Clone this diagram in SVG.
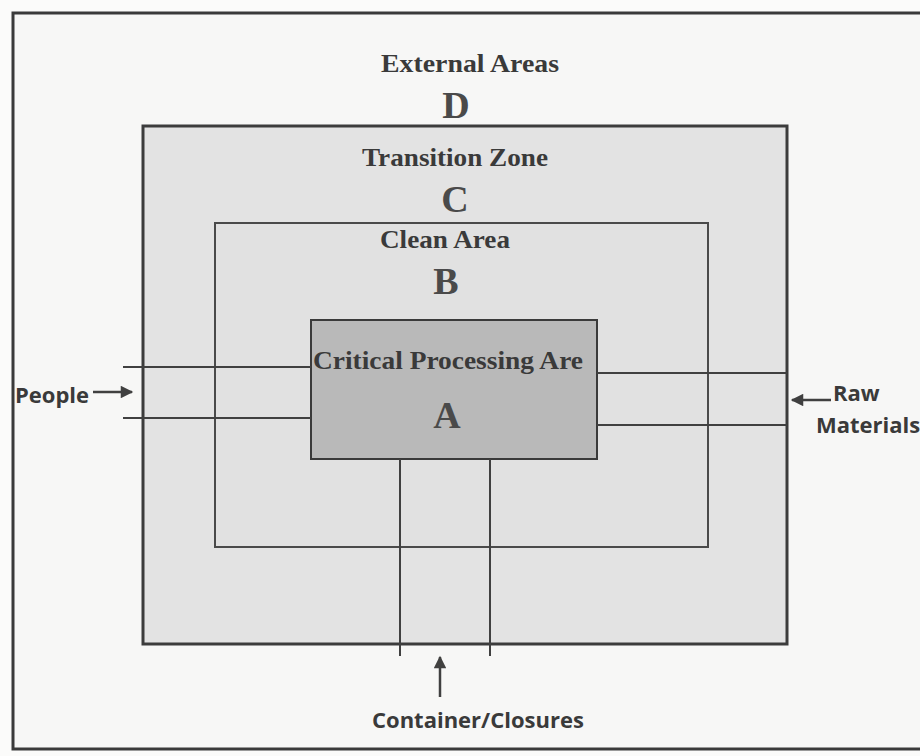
<svg xmlns="http://www.w3.org/2000/svg" width="920" height="756" viewBox="0 0 920 756">
<defs>
<style>
.frame{fill:#f7f7f6;stroke:#3a3a3a;stroke-width:3}
.zc{fill:#e3e3e3;stroke:#3c3c3c;stroke-width:3}
.zb{fill:#e1e1e1;stroke:#4a4a4a;stroke-width:2}
.za{fill:#b9b9b9;stroke:#3a3a3a;stroke-width:2}
.ttl{font-family:"Liberation Serif","Times New Roman",serif;font-weight:bold;font-size:26px;fill:#3a3a3a;text-anchor:middle}
.big{font-family:"Liberation Serif","Times New Roman",serif;font-weight:bold;font-size:38px;fill:#4a4a4a;text-anchor:middle}
.lbl{font-family:"Open Sans","Liberation Sans",sans-serif;font-weight:bold;font-size:22px;fill:#3a3a3a}
.ln{stroke:#404040;stroke-width:2;fill:none}
.ar{stroke:#404040;stroke-width:2.5;fill:none}
</style>
<marker id="ah" viewBox="0 0 10 10" refX="9" refY="5" markerWidth="5.5" markerHeight="5" orient="auto" markerUnits="strokeWidth">
<path d="M0,0 L10,5 L0,10 z" fill="#404040"/>
</marker>
</defs>
<rect x="0" y="0" width="920" height="756" fill="#fbfbfa"/>
<g id="external">
<rect class="frame" x="13" y="13" width="930" height="736"/>
<text class="ttl" x="470" y="72" textLength="178" lengthAdjust="spacingAndGlyphs">External Areas</text>
<text class="big" x="456" y="118">D</text>
</g>
<g id="transition">
<rect class="zc" x="143" y="126" width="644" height="518"/>
<text class="ttl" x="455" y="166" textLength="186" lengthAdjust="spacingAndGlyphs">Transition Zone</text>
<text class="big" x="455" y="212">C</text>
</g>
<g id="clean">
<rect class="zb" x="215" y="223" width="493" height="324"/>
<text class="ttl" x="445" y="248" textLength="130" lengthAdjust="spacingAndGlyphs">Clean Area</text>
<text class="big" x="446" y="294">B</text>
</g>
<g id="critical">
<rect class="za" x="311" y="320" width="286" height="139"/>
<text class="ttl" x="448" y="369" textLength="270" lengthAdjust="spacingAndGlyphs">Critical Processing Are</text>
<text class="big" x="447" y="428">A</text>
</g>
<g id="connectors">
<line class="ln" x1="123" y1="367" x2="311" y2="367"/>
<line class="ln" x1="123" y1="418" x2="311" y2="418"/>
<line class="ln" x1="597" y1="373" x2="787" y2="373"/>
<line class="ln" x1="597" y1="425" x2="787" y2="425"/>
<line class="ln" x1="400" y1="459" x2="400" y2="656"/>
<line class="ln" x1="490" y1="459" x2="490" y2="656"/>
<line class="ar" x1="93" y1="392" x2="132" y2="392" marker-end="url(#ah)"/>
<line class="ar" x1="831" y1="400" x2="792" y2="400" marker-end="url(#ah)"/>
<line class="ar" x1="440" y1="697" x2="440" y2="657" marker-end="url(#ah)"/>
</g>
<g id="labels">
<text class="lbl" x="15" y="403">People</text>
<text class="lbl" x="833" y="401">Raw</text>
<text class="lbl" x="816" y="433">Materials</text>
<text class="lbl" x="372" y="728">Container/Closures</text>
</g>
</svg>
